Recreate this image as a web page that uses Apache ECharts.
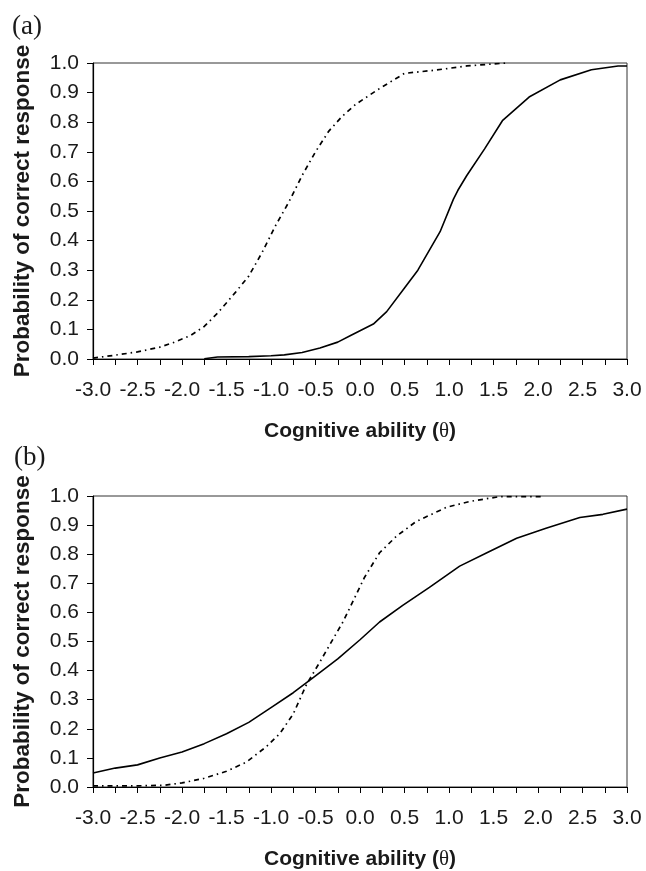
<!DOCTYPE html>
<html>
<head>
<meta charset="utf-8">
<script src="https://cdn.jsdelivr.net/npm/echarts@6/dist/echarts.min.js"></script>
<style>html,body{margin:0;padding:0;background:#fff;}#c{width:646px;height:871px;}</style>
</head>
<body>
<div id="c"></div>
<script>
// Panel (a)
var thetaSolidA = [-1.75,-1.6,-1.25,-1.0,-0.85,-0.65,-0.45,-0.25,-0.1,0.15,0.3,0.5,0.65,0.9,1.05,1.1,1.2,1.4,1.6,1.9,2.25,2.6,2.9,3.0];
var probSolidA  = [0.001,0.007,0.008,0.011,0.014,0.022,0.037,0.057,0.08,0.118,0.16,0.24,0.30,0.43,0.54,0.57,0.62,0.71,0.805,0.885,0.943,0.977,0.99,0.99];
var thetaDashA = [-3.0,-2.9,-2.75,-2.5,-2.25,-2.1,-1.9,-1.75,-1.6,-1.4,-1.25,-1.1,-0.95,-0.8,-0.65,-0.5,-0.35,-0.2,-0.05,0.2,0.5,0.85,1.2,1.5,1.65];
var probDashA  = [0.003,0.007,0.013,0.024,0.04,0.055,0.08,0.11,0.155,0.225,0.28,0.36,0.45,0.53,0.62,0.70,0.77,0.82,0.86,0.91,0.965,0.976,0.99,0.997,1.0];
// Panel (b)
var thetaSolidB = [-3.0,-2.75,-2.5,-2.25,-2.0,-1.75,-1.5,-1.25,-1.0,-0.75,-0.5,-0.25,0.0,0.22,0.48,0.78,1.12,1.42,1.76,2.09,2.47,2.73,3.0];
var probSolidB  = [0.048,0.065,0.076,0.10,0.12,0.149,0.183,0.222,0.273,0.324,0.382,0.44,0.506,0.567,0.624,0.686,0.759,0.804,0.855,0.889,0.926,0.937,0.955];
var thetaDashB = [-3.0,-2.5,-2.2,-2.0,-1.75,-1.5,-1.28,-1.05,-0.9,-0.75,-0.6,-0.45,-0.3,-0.19,0.05,0.22,0.41,0.63,0.97,1.23,1.57,2.04];
var probDashB  = [0.004,0.004,0.006,0.014,0.03,0.054,0.085,0.139,0.184,0.251,0.353,0.43,0.51,0.568,0.72,0.805,0.862,0.912,0.961,0.981,0.998,0.998];

var xTickMin = -3.0, xTickMax = 3.0, xTickStep = 0.5;
var yTickMin = 0.0, yTickMax = 1.0, yTickStep = 0.1;
var xTitle = 'Cognitive ability ({t|θ})';
var yTitle = 'Probability of correct response';
var panelLabels = ['(a)', '(b)'];

function zip(xs, ys){ return xs.map(function(x,i){ return [x, ys[i]]; }); }

var sans = 'Liberation Sans';
var txt = '#1a1a1a';

function xAxisCfg(idx){
  return {
    type:'value', gridIndex: idx, min:xTickMin, max:xTickMax, interval:xTickStep,
    axisLine:{show:true, onZero:false, lineStyle:{color:'#000', width:1.2}},
    axisTick:{show:true, length:6, inside:false, lineStyle:{color:'#000', width:1}},
    minorTick:{show:true, splitNumber:2, length:6, lineStyle:{color:'#000', width:1}},
    splitLine:{show:false},
    axisLabel:{fontFamily:sans, fontSize:21, color:txt, margin:21,
      formatter:function(v){ return v.toFixed(1); }},
    name: xTitle, nameLocation:'middle', nameGap:62,
    nameTextStyle:{fontFamily:sans, fontSize:21, fontWeight:'bold', color:txt,
      rich:{t:{fontFamily:'Liberation Serif', fontSize:21, fontWeight:'normal', color:txt}}}
  };
}
function yAxisCfg(idx){
  return {
    type:'value', gridIndex: idx, min:yTickMin, max:yTickMax, interval:yTickStep,
    axisLine:{show:true, onZero:false, lineStyle:{color:'#000', width:1.2}},
    axisTick:{show:true, length:6, lineStyle:{color:'#000', width:1}},
    splitLine:{show:false},
    axisLabel:{fontFamily:sans, fontSize:21, color:txt, margin:14,
      formatter:function(v){ return v.toFixed(1); }},
    name: yTitle, nameLocation:'middle', nameGap:59, nameRotate:90,
    nameTextStyle:{fontFamily:sans, fontSize:22.5, fontWeight:'bold', color:txt}
  };
}
function solid(idx, xs, ys){
  return {type:'line', xAxisIndex:idx, yAxisIndex:idx, data:zip(xs,ys), showSymbol:false,
    lineStyle:{color:'#000', width:1.6, type:'solid'}, silent:true, z:3};
}
function dashed(idx, xs, ys){
  return {type:'line', xAxisIndex:idx, yAxisIndex:idx, data:zip(xs,ys), showSymbol:false,
    lineStyle:{color:'#000', width:1.7, type:[5,4,1.5,4]}, silent:true, z:3};
}

var chart = echarts.init(document.getElementById('c'), null, {renderer:'canvas'});
chart.setOption({
  animation:false,
  backgroundColor:'#fff',
  title:[
    {text:panelLabels[0], left:7, top:8, textStyle:{fontFamily:'Liberation Serif', fontSize:27, fontWeight:'normal', color:txt}},
    {text:panelLabels[1], left:9, top:439, textStyle:{fontFamily:'Liberation Serif', fontSize:27, fontWeight:'normal', color:txt}}
  ],
  grid:[
    {left:93, top:63, width:534, height:296, show:true, borderColor:'#333', borderWidth:1, backgroundColor:'transparent'},
    {left:93, top:496, width:534, height:295, show:true, borderColor:'#333', borderWidth:1, backgroundColor:'transparent'}
  ],
  xAxis:[xAxisCfg(0), xAxisCfg(1)],
  yAxis:[yAxisCfg(0), yAxisCfg(1)],
  series:[
    solid(0, thetaSolidA, probSolidA),
    dashed(0, thetaDashA, probDashA),
    solid(1, thetaSolidB, probSolidB),
    dashed(1, thetaDashB, probDashB)
  ]
});
</script>
</body>
</html>
